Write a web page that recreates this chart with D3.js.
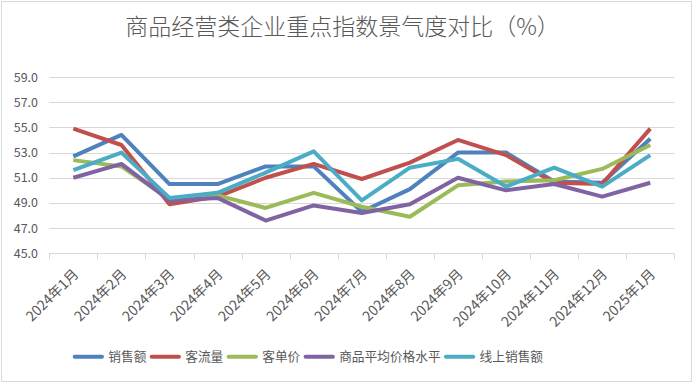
<!DOCTYPE html>
<html>
<head>
<meta charset="utf-8">
<script src="https://cdn.jsdelivr.net/npm/d3@7"></script>
<style>
  body { margin: 0; background: #fff; }
  text { font-family: "Noto Sans CJK SC", "Noto Sans", sans-serif; fill: #595959; }
</style>
</head>
<body>
<div id="chart"></div>
<script>
// data
var months = ["2024年1月", "2024年2月", "2024年3月", "2024年4月", "2024年5月", "2024年6月", "2024年7月",
              "2024年8月", "2024年9月", "2024年10月", "2024年11月", "2024年12月", "2025年1月"];
var sales      = [52.7, 54.4, 50.5, 50.5, 51.9, 51.9, 48.3, 50.1, 53.0, 53.0, 50.7, 50.6, 54.1];
var traffic    = [54.9, 53.6, 48.9, 49.5, 51.0, 52.1, 50.9, 52.2, 54.0, 52.8, 50.6, 50.5, 54.9];
var perTicket  = [52.4, 51.9, 49.3, 49.6, 48.6, 49.8, 48.7, 47.9, 50.4, 50.7, 50.8, 51.7, 53.6];
var avgPrice   = [51.0, 52.1, 49.2, 49.4, 47.6, 48.8, 48.2, 48.9, 51.0, 50.0, 50.5, 49.5, 50.6];
var onlineSales = [51.6, 53.0, 49.4, 49.8, 51.4, 53.1, 49.2, 51.8, 52.5, 50.3, 51.8, 50.3, 52.8];
var seriesNames = ["销售额", "客流量", "客单价", "商品平均价格水平", "线上销售额"];
var seriesColors = ["#4F81BD", "#C0504D", "#9BBB59", "#8064A2", "#4BACC6"];
var yTicks = [45, 47, 49, 51, 53, 55, 57, 59];

var allSeries = [sales, traffic, perTicket, avgPrice, onlineSales];

var width = 694, height = 384;
var plotLeft = 49.3, plotRight = 674.3, plotTop = 77, plotBottom = 253.3;

var svg = d3.select("#chart").append("svg")
    .attr("width", width)
    .attr("height", height);

// chart border
svg.append("rect")
    .attr("x", 1.5).attr("y", 1.5)
    .attr("width", 690).attr("height", 380)
    .attr("fill", "#fff")
    .attr("stroke", "#d9d9d9");

var x = d3.scaleBand().domain(months).range([plotLeft, plotRight]).padding(0);
var y = d3.scaleLinear().domain([45, 59]).range([plotBottom, plotTop]);

// title
svg.append("text")
    .attr("x", 342.5).attr("y", 35)
    .attr("text-anchor", "middle")
    .style("font-size", "23px")
    .style("font-weight", 300)
    .text("商品经营类企业重点指数景气度对比（%）");

// gridlines
svg.append("g").selectAll("line")
    .data(yTicks.slice(1))
    .enter().append("line")
    .attr("x1", plotLeft).attr("x2", plotRight)
    .attr("y1", function(d) { return Math.round(y(d)) + 0.5; })
    .attr("y2", function(d) { return Math.round(y(d)) + 0.5; })
    .attr("stroke", "#d9d9d9");

// y labels
svg.append("g").selectAll("text")
    .data(yTicks)
    .enter().append("text")
    .attr("x", 38)
    .attr("y", function(d) { return y(d) + 4.5; })
    .attr("text-anchor", "end")
    .style("font-size", "12.5px")
    .text(function(d) { return d.toFixed(1); });

// x axis line + ticks at band edges
var yAxis = Math.round(plotBottom) + 0.5;
svg.append("line")
    .attr("x1", plotLeft).attr("x2", plotRight)
    .attr("y1", yAxis).attr("y2", yAxis)
    .attr("stroke", "#d9d9d9");
var edges = months.map(function(m) { return x(m); }).concat([plotRight]);
svg.append("g").selectAll("line")
    .data(edges)
    .enter().append("line")
    .attr("x1", function(d) { return Math.round(d) + 0.5; })
    .attr("x2", function(d) { return Math.round(d) + 0.5; })
    .attr("y1", yAxis).attr("y2", yAxis + 6)
    .attr("stroke", "#d9d9d9");

// x labels, rotated
svg.append("g").selectAll("text")
    .data(months)
    .enter().append("text")
    .attr("transform", function(d) {
        return "translate(" + (x(d) + x.bandwidth() / 2 + 6) + "," + 275 + ") rotate(-45)";
    })
    .attr("text-anchor", "end")
    .style("font-size", "14px")
    .text(function(d) { return d; });

// lines
var line = d3.line()
    .x(function(d, i) { return x(months[i]) + x.bandwidth() / 2; })
    .y(function(d) { return y(d); });

svg.append("g").selectAll("path")
    .data(allSeries)
    .enter().append("path")
    .attr("d", line)
    .attr("fill", "none")
    .attr("stroke", function(d, i) { return seriesColors[i]; })
    .attr("stroke-width", 4)
    .attr("stroke-linejoin", "round");

// legend
var legend = svg.append("g");
var lx = 72.7, ly = 356.7;
seriesNames.forEach(function(name, i) {
    legend.append("line")
        .attr("x1", lx + 2).attr("x2", lx + 29.3)
        .attr("y1", ly).attr("y2", ly)
        .attr("stroke", seriesColors[i])
        .attr("stroke-width", 4)
        .attr("stroke-linecap", "round");
    var t = legend.append("text")
        .attr("x", lx + 35.6)
        .attr("y", ly + 4.5)
        .style("font-size", "12.7px")
        .text(name);
    lx = lx + 35.6 + t.node().getComputedTextLength() + 3.3;
});
</script>
</body>
</html>
